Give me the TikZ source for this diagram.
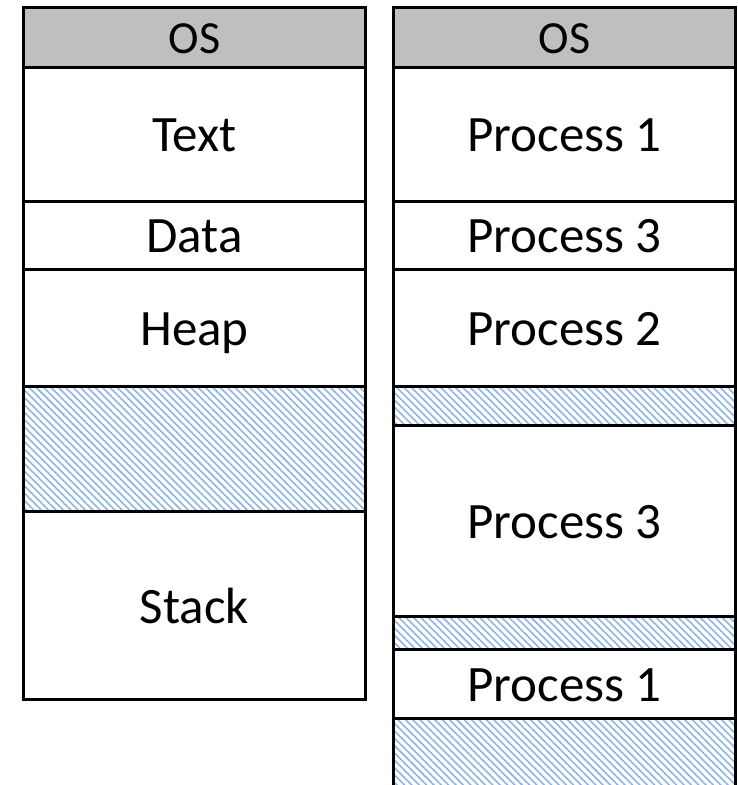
\documentclass[tikz,border=0pt]{standalone}
\usepackage{fontspec}
\setmainfont{Carlito}
\usetikzlibrary{patterns.meta}
\definecolor{hdrgray}{HTML}{BFBFBF}
\definecolor{hatchblue}{HTML}{8EB4E3}
\tikzset{
  box/.style={draw=black, line width=3pt, rectangle, minimum width=342pt, inner sep=0pt, outer sep=0pt},
  cell/.style={box, fill=white, font=\fontsize{51}{60}\selectfont, text height=35pt, text depth=0pt},
  hdr/.style={box, fill=hdrgray, font=\fontsize{46}{54}\selectfont, text height=31pt, text depth=0pt},
  free/.style={box, pattern={Lines[angle=-45, distance=5.2pt, line width=1.6pt]}, pattern color=hatchblue}
}
\begin{document}
\begin{tikzpicture}[x=1pt, y=-1pt]
\useasboundingbox (0,0) rectangle (738,785);
\clip (0,0) rectangle (738,785);
% left column
\node[hdr, minimum height=60pt] (losh) at (194.5,37.5) {OS};
\node[cell, minimum height=133.5pt] (ltext) at (194.5,134.25) {Text};
\node[cell, minimum height=68.5pt] (ldata) at (194.5,235.25) {Data};
\node[cell, minimum height=116.5pt] (lheap) at (194.5,327.75) {Heap};
\node[free, minimum height=125.5pt] (lfree) at (194.5,448.75) {};
\node[cell, minimum height=188pt] (lstack) at (194.5,605.5) {Stack};
% right column
\node[hdr, minimum height=60pt] (rosh) at (564.5,37.5) {OS};
\node[cell, minimum height=133.5pt] (rp1a) at (564.5,134.25) {Process 1};
\node[cell, minimum height=68.5pt] (rp3a) at (564.5,235.25) {Process 3};
\node[cell, minimum height=116.5pt] (rp2) at (564.5,327.75) {Process 2};
\node[free, minimum height=39pt] (rfreea) at (564.5,405.5) {};
\node[cell, minimum height=191pt] (rp3b) at (564.5,520.5) {Process 3};
\node[free, minimum height=33.5pt] (rfreeb) at (564.5,632.75) {};
\node[cell, minimum height=68.5pt] (rp1b) at (564.5,683.75) {Process 1};
\node[free, minimum height=82pt] (rfreec) at (564.5,759) {};
\end{tikzpicture}
\end{document}
